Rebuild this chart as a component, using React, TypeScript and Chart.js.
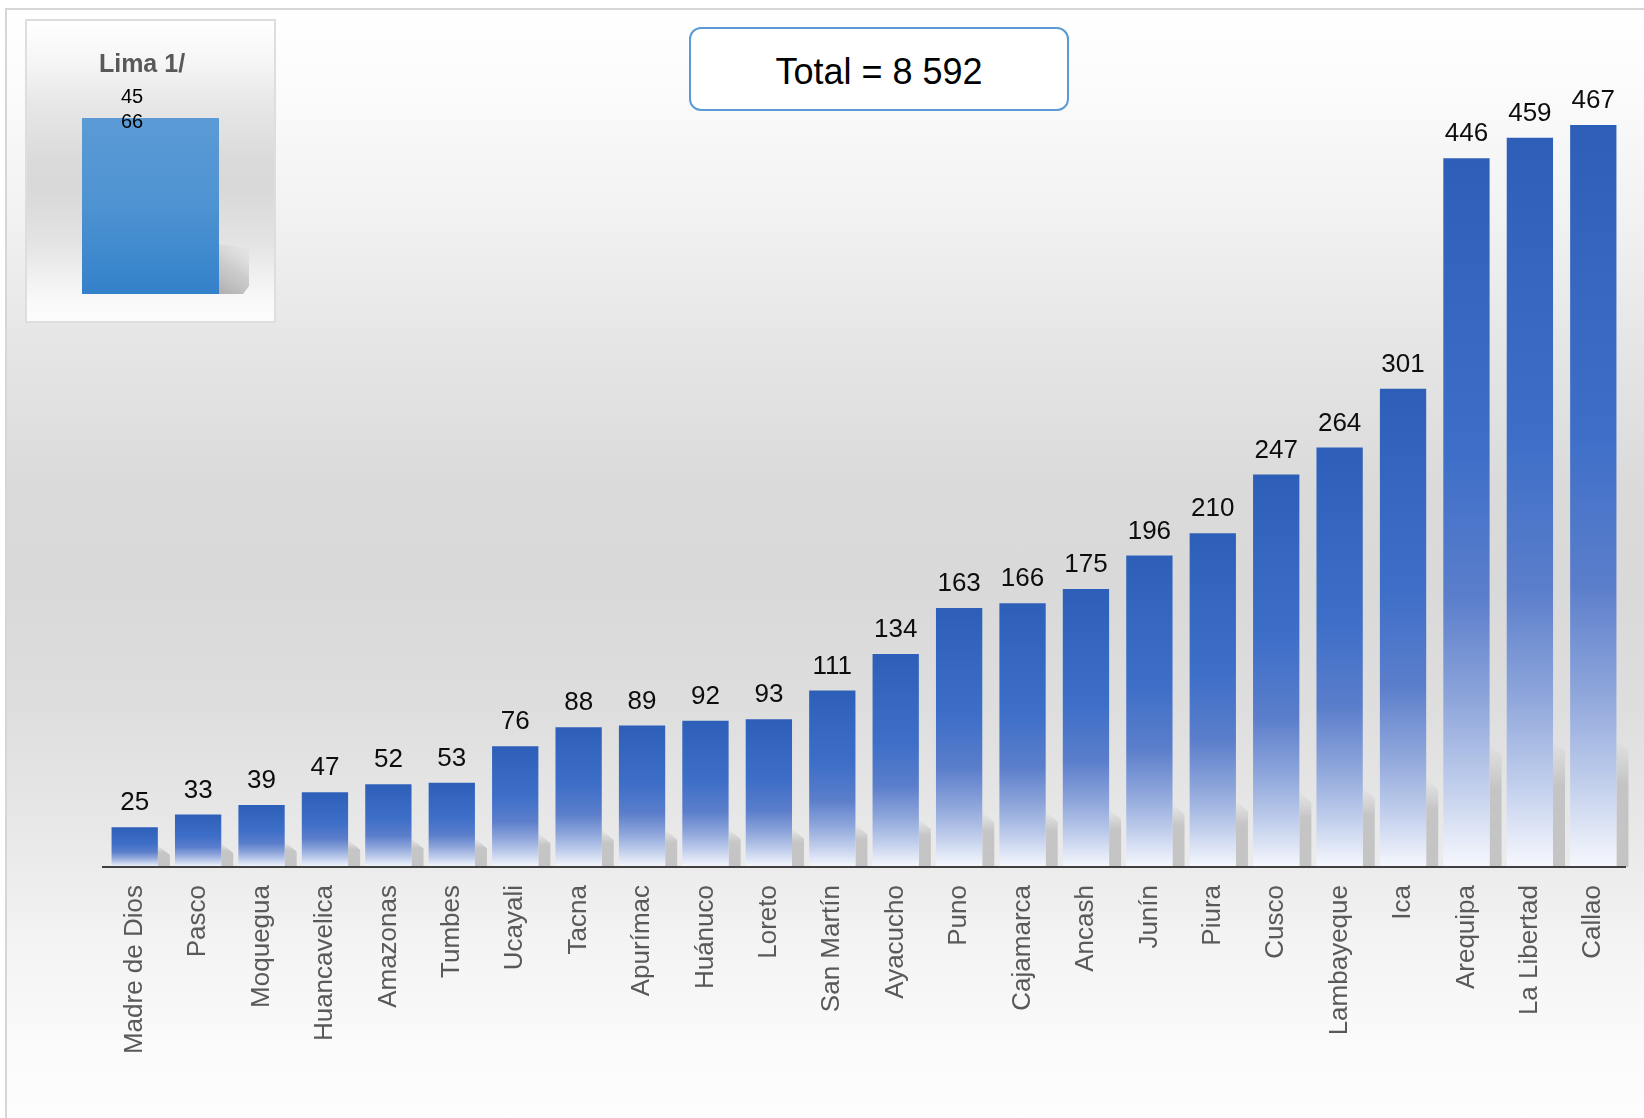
import React, { useEffect, useRef } from 'react';
import { Chart, registerables } from 'chart.js';

Chart.register(...registerables);

const regions: string[] = [
  'Madre de Dios', 'Pasco', 'Moquegua', 'Huancavelica', 'Amazonas', 'Tumbes',
  'Ucayali', 'Tacna', 'Apurímac', 'Huánuco', 'Loreto', 'San Martín', 'Ayacucho',
  'Puno', 'Cajamarca', 'Ancash', 'Junín', 'Piura', 'Cusco', 'Lambayeque', 'Ica',
  'Arequipa', 'La Libertad', 'Callao',
];
const cases: number[] = [
  25, 33, 39, 47, 52, 53, 76, 88, 89, 92, 93, 111, 134, 163, 166, 175, 196, 210,
  247, 264, 301, 446, 459, 467,
];
const limaLabels: string[] = ['Lima 1/'];
const limaCases: number[] = [4566];
const yAxisMax = 500;

const FONT = '"Liberation Sans", Arial, Helvetica, sans-serif';

const formatThousands = (n: number) => String(n).replace(/\B(?=(\d{3})+(?!\d))/g, ' ');
const total = cases.reduce((a, b) => a + b, 0) + limaCases.reduce((a, b) => a + b, 0);

const barShadowPlugin = {
  id: 'barShadow',
  beforeDatasetsDraw(chart: any) {
    const meta = chart.getDatasetMeta(0);
    const c = chart.ctx as CanvasRenderingContext2D;
    meta.data.forEach((el: any) => {
      const { x, y, base, width } = el.getProps(['x', 'y', 'base', 'width'], true);
      const h = base - y;
      const sh = Math.min(h, 16 + 0.15 * h);
      const left = x + width / 2;
      const w = 12;
      const g = c.createLinearGradient(0, base - sh, 0, base);
      g.addColorStop(0, 'rgba(190,190,190,0)');
      g.addColorStop(0.35, 'rgba(188,188,188,0.8)');
      g.addColorStop(1, 'rgba(194,194,194,0.95)');
      c.save();
      c.fillStyle = g;
      c.beginPath();
      c.moveTo(left, base - sh);
      c.lineTo(left + w, base - sh + 10);
      c.lineTo(left + w, base);
      c.lineTo(left, base);
      c.closePath();
      c.fill();
      c.restore();
    });
  },
};

const valueLabelPlugin = {
  id: 'valueLabels',
  afterDatasetsDraw(chart: any) {
    const meta = chart.getDatasetMeta(0);
    const c = chart.ctx as CanvasRenderingContext2D;
    c.save();
    c.font = `26px ${FONT}`;
    c.fillStyle = '#0d0d0d';
    c.textAlign = 'center';
    c.textBaseline = 'alphabetic';
    meta.data.forEach((el: any, i: number) => {
      c.fillText(String(cases[i]), el.x, el.y - 17);
    });
    c.restore();
  },
};

const insetPlugin = {
  id: 'insetDecor',
  beforeDatasetsDraw(chart: any) {
    const el = chart.getDatasetMeta(0).data[0];
    if (!el) return;
    const { x, base, width } = el.getProps(['x', 'base', 'width'], true);
    const c = chart.ctx as CanvasRenderingContext2D;
    const right = x + width / 2;
    c.save();
    const g = c.createLinearGradient(right, base, right + 30, base - 50);
    g.addColorStop(0, 'rgba(170,170,170,0.95)');
    g.addColorStop(0.5, 'rgba(190,190,190,0.7)');
    g.addColorStop(1, 'rgba(210,210,210,0)');
    c.fillStyle = g;
    c.beginPath();
    c.moveTo(right, base - 50);
    c.lineTo(right + 30, base - 45);
    c.lineTo(right + 30, base - 8);
    c.lineTo(right + 24, base);
    c.lineTo(right, base);
    c.closePath();
    c.fill();
    c.restore();
  },
  afterDatasetsDraw(chart: any) {
    const el = chart.getDatasetMeta(0).data[0];
    if (!el) return;
    const c = chart.ctx as CanvasRenderingContext2D;
    c.save();
    c.textAlign = 'center';
    c.textBaseline = 'middle';
    c.font = `bold 25px ${FONT}`;
    c.fillStyle = '#595959';
    c.fillText(limaLabels[0], el.x - 8.5, 44);
    const s = String(limaCases[0]);
    const half = Math.ceil(s.length / 2);
    c.font = `20px ${FONT}`;
    c.fillStyle = '#000000';
    c.fillText(s.slice(0, half), el.x - 18.5, el.y - 21);
    c.fillText(s.slice(half), el.x - 18.5, el.y + 4);
    c.restore();
  },
};

export default function App() {
  const mainRef = useRef<HTMLCanvasElement | null>(null);
  const insetRef = useRef<HTMLCanvasElement | null>(null);

  useEffect(() => {
    const main = new Chart(mainRef.current as HTMLCanvasElement, {
      type: 'bar',
      data: {
        labels: regions,
        datasets: [
          {
            data: cases,
            barPercentage: 0.73,
            categoryPercentage: 1,
            backgroundColor: (ctx: any) => {
              const chart = ctx.chart;
              const { chartArea, scales } = chart;
              if (!chartArea || ctx.type !== 'data') return '#2E62BB';
              const top = scales.y.getPixelForValue(ctx.raw as number);
              const base = scales.y.getPixelForValue(0);
              const g = chart.ctx.createLinearGradient(0, top, 0, base);
              g.addColorStop(0, '#2D5FB9');
              g.addColorStop(0.42, '#3E6FC8');
              g.addColorStop(0.62, '#5B7ECB');
              g.addColorStop(0.76, '#8CA4DA');
              g.addColorStop(0.88, '#BECCEB');
              g.addColorStop(1, '#F6F8FD');
              return g;
            },
            borderWidth: 0,
          },
        ],
      },
      options: {
        responsive: false,
        animation: false,
        devicePixelRatio: 1,
        layout: { padding: { left: 103, right: 19, top: 72.5, bottom: 0 } },
        plugins: {
          legend: { display: false },
          tooltip: { enabled: false },
          title: { display: false },
        },
        scales: {
          x: {
            grid: { display: false },
            border: { display: true, color: '#404040', width: 2, z: 1 } as any,
            ticks: {
              color: '#595959',
              font: { family: FONT, size: 26 },
              minRotation: 90,
              maxRotation: 90,
              padding: 10,
              autoSkip: false,
            },
            afterFit: (s: any) => {
              s.height = 251;
            },
          },
          y: { display: false, min: 0, max: yAxisMax },
        },
      },
      plugins: [barShadowPlugin, valueLabelPlugin],
    });

    const inset = new Chart(insetRef.current as HTMLCanvasElement, {
      type: 'bar',
      data: {
        labels: limaLabels,
        datasets: [
          {
            data: limaCases,
            barPercentage: 1,
            categoryPercentage: 1,
            backgroundColor: (ctx: any) => {
              const chart = ctx.chart;
              const { chartArea, scales } = chart;
              if (!chartArea || ctx.type !== 'data') return '#4A8FD2';
              const top = scales.y.getPixelForValue(ctx.raw as number);
              const base = scales.y.getPixelForValue(0);
              const g = chart.ctx.createLinearGradient(0, top, 0, base);
              g.addColorStop(0, '#5B9BD5');
              g.addColorStop(0.5, '#4E93D2');
              g.addColorStop(1, '#3381CA');
              return g;
            },
            borderWidth: 0,
          },
        ],
      },
      options: {
        responsive: false,
        animation: false,
        devicePixelRatio: 1,
        layout: { padding: { left: 55, right: 55, top: 97, bottom: 27 } },
        plugins: {
          legend: { display: false },
          tooltip: { enabled: false },
          title: { display: false },
        },
        scales: {
          x: { display: false },
          y: { display: false, min: 0, max: limaCases[0] },
        },
      },
      plugins: [insetPlugin],
    });

    return () => {
      main.destroy();
      inset.destroy();
    };
  }, []);

  return (
    <div
      style={{
        position: 'absolute',
        left: 0,
        top: 0,
        width: 1644,
        height: 1118,
        overflow: 'hidden',
        background: '#ffffff',
        fontFamily: FONT,
      }}
    >
      <div
        style={{
          position: 'absolute',
          left: 5,
          top: 8,
          width: 1660,
          height: 1130,
          borderLeft: '2px solid #D6D6D6',
          borderTop: '2px solid #D6D6D6',
          background:
            'linear-gradient(to bottom, #FFFFFF 0px, #FBFBFB 80px, #F2F2F2 200px, #E6E6E6 330px, #DADADA 480px, #D9D9D9 580px, #DEDEDE 700px, #E9E9E9 830px, #F4F4F4 940px, #FAFAFA 1030px, #FDFDFD 1110px)',
        }}
      />
      <canvas
        ref={mainRef}
        width={1644}
        height={1118}
        style={{ position: 'absolute', left: 0, top: 0, width: 1644, height: 1118 }}
      />
      <div
        style={{
          position: 'absolute',
          left: 25,
          top: 19,
          width: 251,
          height: 304,
          boxSizing: 'border-box',
          border: '2px solid #DEDEDE',
          background:
            'linear-gradient(to bottom, #FFFFFF 0px, #F6F6F6 40px, #E8E8E8 80px, #DADADA 140px, #D9D9D9 170px, #E3E3E3 220px, #F0F0F0 255px, #F9F9F9 280px, #FCFCFC 300px)',
        }}
      >
        <canvas
          ref={insetRef}
          width={247}
          height={300}
          style={{ position: 'absolute', left: 0, top: 0, width: 247, height: 300 }}
        />
      </div>
      <div
        style={{
          position: 'absolute',
          left: 689,
          top: 27,
          width: 380,
          height: 84,
          boxSizing: 'border-box',
          border: '2px solid #5B9BD5',
          borderRadius: 12,
          background: '#ffffff',
          display: 'flex',
          alignItems: 'center',
          justifyContent: 'center',
          paddingTop: 6,
          fontSize: 36,
          color: '#000000',
          fontFamily: FONT,
        }}
      >
        {`Total = ${formatThousands(total)}`}
      </div>
    </div>
  );
}
